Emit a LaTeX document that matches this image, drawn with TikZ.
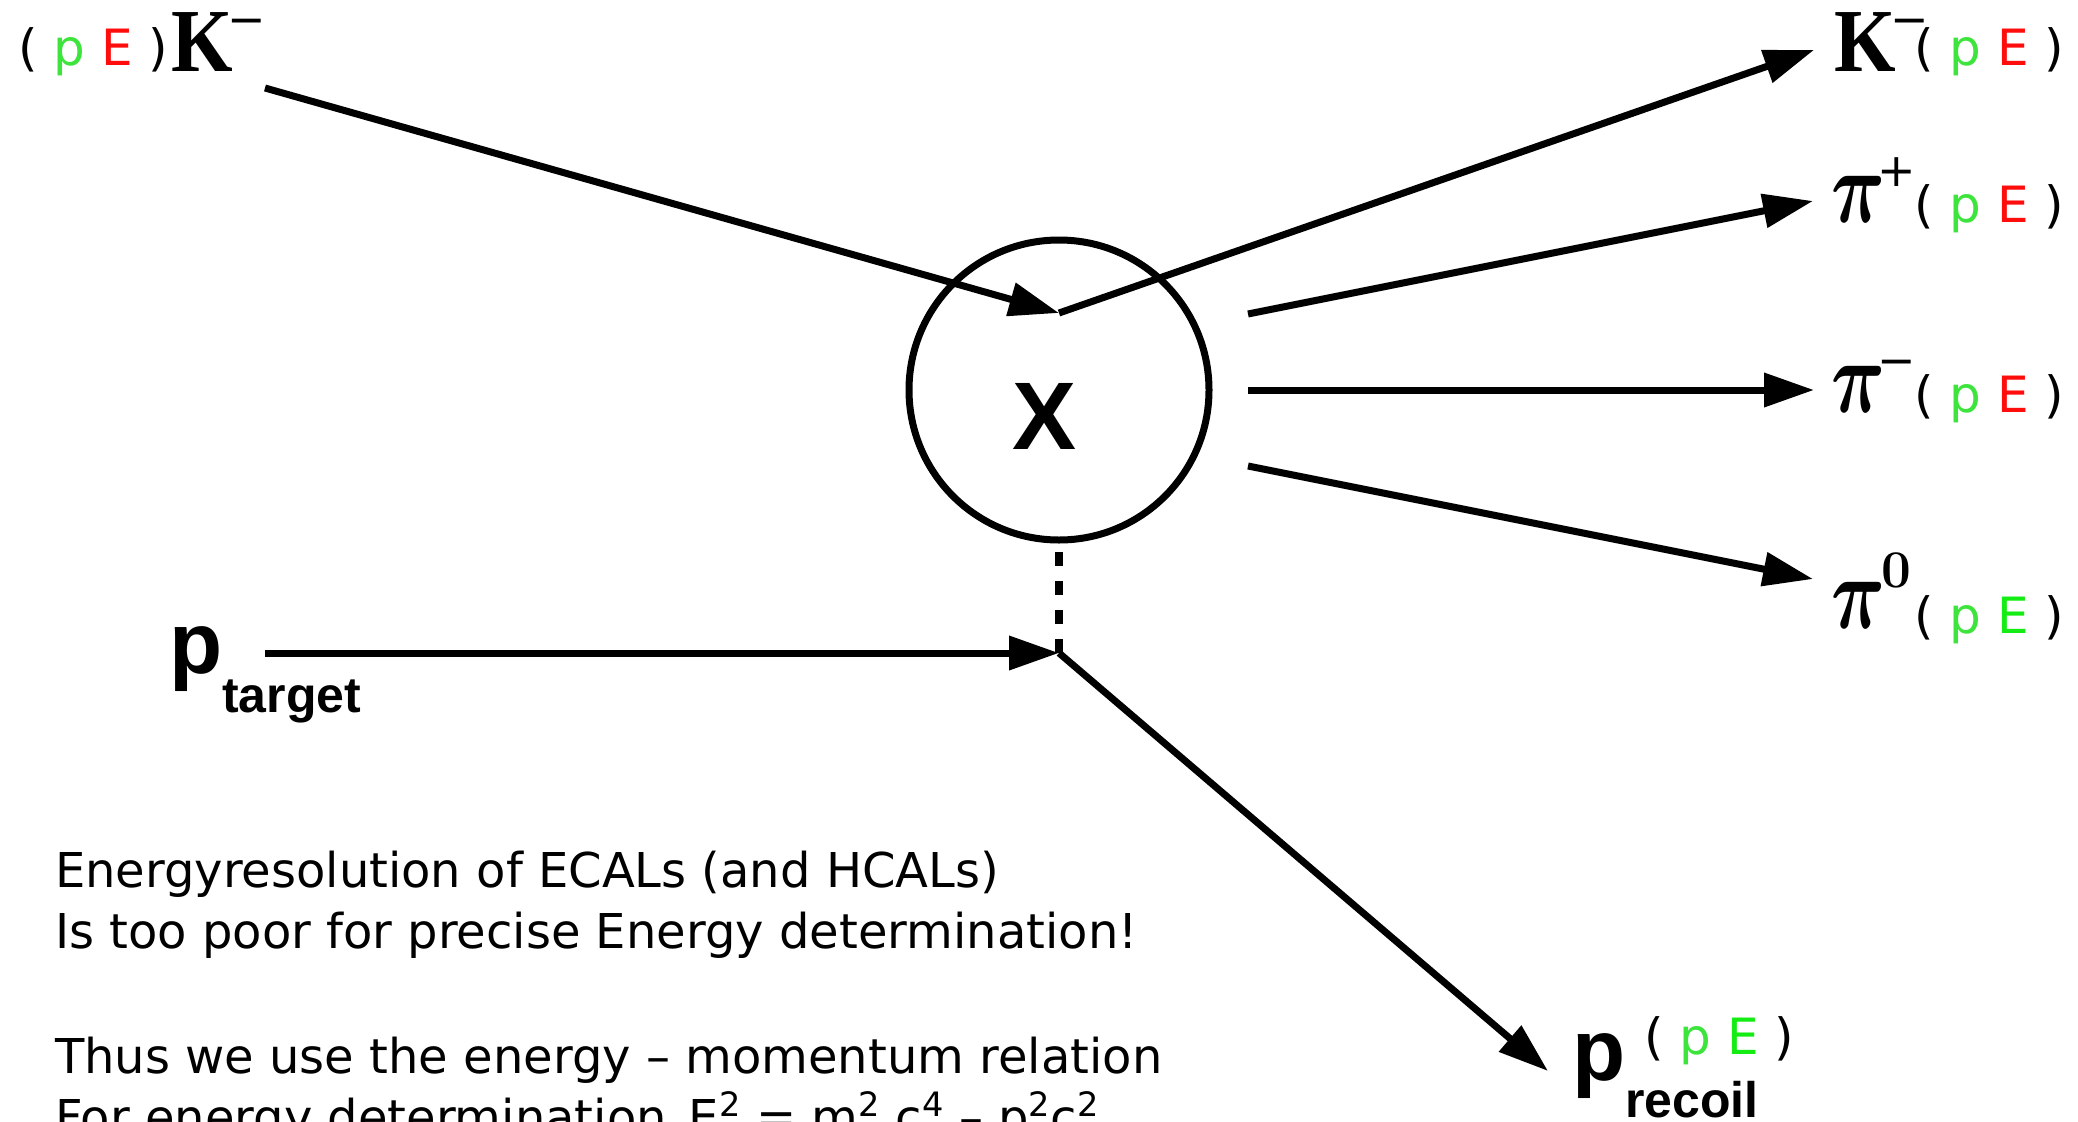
\RequirePackage{fix-cm}
\documentclass[tikz,border=0pt]{standalone}
\usepackage[no-math]{fontspec}
\setmainfont{DejaVu Sans}
\newfontfamily\labelsans{Liberation Sans}
\newfontfamily\labelserif{Liberation Serif}
\usetikzlibrary{arrows.meta}

\definecolor{pgreen}{RGB}{60,228,60}
\definecolor{egreen}{RGB}{20,236,20}
\definecolor{ered}{RGB}{255,12,12}

% font helpers for the particle labels
\newcommand{\pefont}{\fontsize{50}{50}\selectfont}
\newcommand{\upsign}[1]{\raisebox{36pt}{\fontsize{46}{46}\selectfont #1}}
\newcommand{\boldpi}{\scalebox{0.72}[1]{\fontsize{104}{104}\selectfont\mathversion{bold}$\pi$}}
\newcommand{\bigK}{{\labelserif\bfseries\fontsize{90}{90}\selectfont\scalebox{0.88}[1]{K}}}
\newcommand{\boldzero}{\raisebox{41pt}{\fontsize{53}{53}\selectfont\mathversion{bold}$0$}}

\tikzset{
  particle/.style={line width=7pt, -{Triangle[length=50pt,width=33pt]}},
  track/.style={line width=7pt},
  lbl/.style={anchor=base west, inner sep=0pt, outer sep=0pt},
  pe/.style={lbl, font=\pefont},
  note/.style={lbl, font=\fontsize{48}{48}\selectfont},
  sanslbl/.style={lbl, font=\labelsans\bfseries},
}

\begin{document}
\begin{tikzpicture}[x=1pt,y=-1pt]
\useasboundingbox (0,0) rectangle (2078,1122);

% interaction vertex
\node[draw, circle, line width=7pt, minimum size=300pt, inner sep=0pt] (vertex) at (1059,390) {};
\node[sanslbl, font=\labelsans\bfseries\fontsize{96}{96}\selectfont] (xname) at (1012,449) {X};

% connector end points
\coordinate (kstart) at (265,88);
\coordinate (vtop) at (1059,313);
\coordinate (vbot) at (1059,653);
\coordinate (dtop) at (1059,552);
\coordinate (pstart) at (265,653);
\coordinate (kend) at (1814,50);
\coordinate (pipstart) at (1248,314);
\coordinate (pipend) at (1813,201);
\coordinate (pimstart) at (1248,390);
\coordinate (pimend) at (1814,390);
\coordinate (pizstart) at (1248,466);
\coordinate (pizend) at (1813,579);
\coordinate (recend) at (1548,1071);

% incoming particles
\node[pe] (kinpe) at (18,65) {( \textcolor{pgreen}{p} \textcolor{ered}{E} )};
\node[lbl] (kin) at (171,71) {\bigK\kern-5pt\upsign{−}};
\node[sanslbl] (ptarget) at (169,673) {\fontsize{87}{87}\selectfont p\raisebox{-39pt}{\fontsize{50}{50}\selectfont target}};

\draw[particle] (kstart) -- (vtop);
\draw[particle] (pstart) -- (vbot);

% outgoing particles
\draw[particle] (vtop) -- (kend);
\draw[particle] (pipstart) -- (pipend);
\draw[particle] (pimstart) -- (pimend);
\draw[particle] (pizstart) -- (pizend);
\draw[particle] (vbot) -- (recend);
\draw[line width=8pt, dash pattern=on 14pt off 15pt] (dtop) -- (vbot);

\node[lbl] (kout) at (1834,71) {\bigK\kern-5pt\upsign{−}};
\node[pe] (koutpe) at (1914,65) {( \textcolor{pgreen}{p} \textcolor{ered}{E} )};

\node[lbl] (pip) at (1831,222) {\boldpi\kern-7pt\upsign{+}};
\node[pe] (pippe) at (1914,222) {( \textcolor{pgreen}{p} \textcolor{ered}{E} )};

\node[lbl] (pim) at (1831,412) {\boldpi\kern-7pt\upsign{−}};
\node[pe] (pimpe) at (1914,412) {( \textcolor{pgreen}{p} \textcolor{ered}{E} )};

\node[lbl] (piz) at (1831,628) {\boldpi\kern-3pt\boldzero};
\node[pe] (pizpe) at (1914,633) {( \textcolor{pgreen}{p} \textcolor{egreen}{E} )};

\node[sanslbl] (precoil) at (1572,1080) {\fontsize{87}{87}\selectfont p\raisebox{-37pt}{\fontsize{50}{50}\selectfont recoil}};
\node[pe] (recpe) at (1644,1054) {( \textcolor{pgreen}{p} \textcolor{egreen}{E} )};

% explanatory text
\node[note] (note1) at (55,887) {Energyresolution of ECALs (and HCALs)};
\node[note] (note2) at (55,948) {Is too poor for precise Energy determination!};
\node[note] (note3) at (55,1073) {Thus we use the energy – momentum relation};
\node[note] (note4) at (55,1134) {For energy determination\hspace{22pt}E\textsuperscript{2} = m\textsuperscript{2} c\textsuperscript{4} – p\textsuperscript{2}c\textsuperscript{2}};
\end{tikzpicture}
\end{document}
